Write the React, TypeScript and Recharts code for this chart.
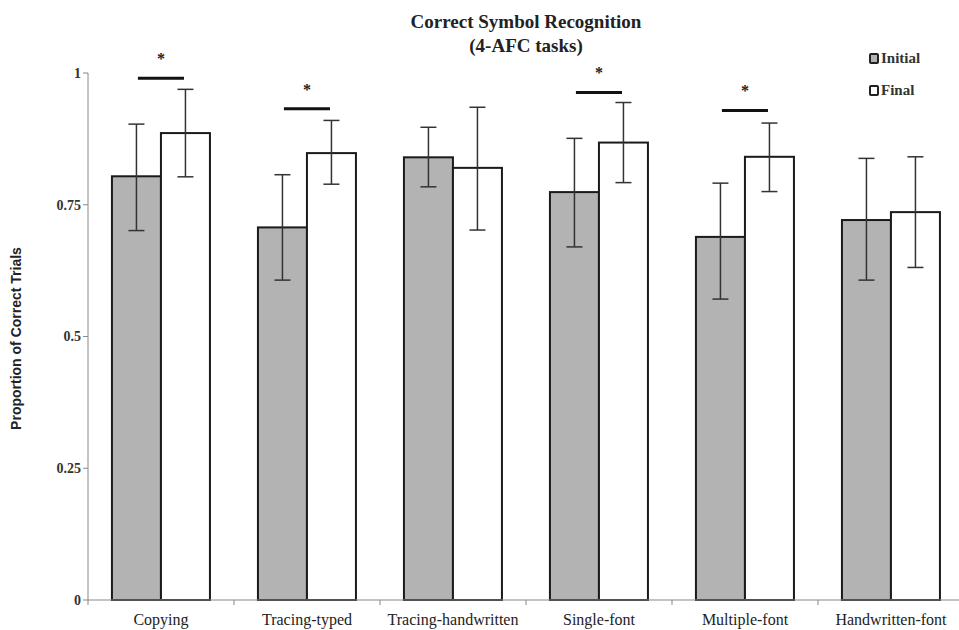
import React from 'react';
import { BarChart, Bar, XAxis, YAxis, ErrorBar } from 'recharts';

const categories = ['Copying', 'Tracing-typed', 'Tracing-handwritten', 'Single-font', 'Multiple-font', 'Handwritten-font'];
const initialValues = [0.804, 0.707, 0.840, 0.774, 0.689, 0.721];
const finalValues = [0.886, 0.848, 0.820, 0.868, 0.841, 0.736];
const initialLow = [0.701, 0.607, 0.784, 0.670, 0.571, 0.607];
const initialHigh = [0.903, 0.807, 0.897, 0.876, 0.791, 0.838];
const finalLow = [0.803, 0.789, 0.702, 0.792, 0.775, 0.631];
const finalHigh = [0.969, 0.910, 0.935, 0.944, 0.905, 0.841];
const sigLevel: (number | null)[] = [0.990, 0.932, null, 0.963, 0.929, null];
const yTicks = [0, 0.25, 0.5, 0.75, 1];
const yTickLabels = ['0', '0.25', '0.5', '0.75', '1'];
const seriesLegend = [
  { label: 'Initial', fill: '#b3b3b3' },
  { label: 'Final', fill: '#ffffff' },
];

const data = categories.map((c, i) => ({
  name: c,
  initial: initialValues[i],
  final: finalValues[i],
  initialErr: [initialValues[i] - initialLow[i], initialHigh[i] - initialValues[i]],
  finalErr: [finalValues[i] - finalLow[i], finalHigh[i] - finalValues[i]],
  sig: sigLevel[i],
}));

const SERIF = '"Liberation Serif", "DejaVu Serif", serif';
const SANS = '"Liberation Sans", Arial, sans-serif';

const FinalShape = (props: any) => {
  const { x, y, width, height, payload } = props;
  const pxPerUnit = height / payload.final;
  const base = y + height;
  const sig = payload.sig;
  let extra = null;
  if (sig != null) {
    const sy = base - sig * pxPerUnit;
    const starY = base - (sig + 0.044) * pxPerUnit;
    extra = (
      <g>
        <line x1={x - width * 0.47} x2={x + width * 0.47} y1={sy} y2={sy} stroke="#111" strokeWidth={3} />
        <text x={x} y={starY + 9} textAnchor="middle" fontFamily={SERIF} fontWeight="bold" fontSize={16} fill="#222">*</text>
      </g>
    );
  }
  return (
    <g>
      <rect x={x} y={y} width={width} height={height} fill="#ffffff" stroke="#1a1a1a" strokeWidth={2} />
      {extra}
    </g>
  );
};

const InitialShape = (props: any) => {
  const { x, y, width, height } = props;
  return <rect x={x} y={y} width={width} height={height} fill={seriesLegend[0].fill} stroke="#1a1a1a" strokeWidth={2} />;
};

const XTick = (props: any) => {
  const { x, y, payload } = props;
  const off = payload.offset || 0;
  return (
    <g>
      <line x1={x - off} x2={x - off} y1={y - 8} y2={y - 3} stroke="#888" strokeWidth={1} />
      <text x={x} y={y + 17} textAnchor="middle" fontFamily={SERIF} fontSize={16} fill="#222">{payload.value}</text>
    </g>
  );
};

export default function App() {
  return (
    <div style={{ position: 'absolute', left: 0, top: 0, width: 959, height: 630, overflow: 'hidden', background: '#fff' }}>
      <div style={{ position: 'absolute', left: 376, top: 10, width: 300, textAlign: 'center', fontFamily: SERIF, fontWeight: 'bold', fontSize: 19, lineHeight: '24px', color: '#222' }}>
        <div>Correct Symbol Recognition</div>
        <div>(4-AFC tasks)</div>
      </div>
      <div style={{ position: 'absolute', left: 869, top: 42, fontFamily: SERIF, fontSize: 15, fontWeight: 'bold', color: '#333' }}>
        {seriesLegend.map((it) => (
          <div key={it.label} style={{ display: 'flex', alignItems: 'center', height: 32 }}>
            <span style={{ display: 'inline-block', width: 6, height: 7, border: '2px solid #222', borderRadius: 2, background: it.fill, marginRight: 2 }} />
            <span>{it.label}</span>
          </div>
        ))}
      </div>
      <BarChart width={980} height={630} data={data} margin={{ top: 73, right: 16, bottom: 0, left: 0 }} barGap={0} barCategoryGap="16.4%" style={{ position: 'absolute', left: 0, top: 0 }}>
        <XAxis dataKey="name" height={30} axisLine={{ stroke: '#888' }} tickLine={false} tick={<XTick />} interval={0} />
        <YAxis
          domain={[0, 1]}
          ticks={yTicks}
          width={88}
          axisLine={{ stroke: '#888' }}
          tickLine={{ stroke: '#888' }}
          tickSize={5}
          tickFormatter={(v: number) => yTickLabels[yTicks.indexOf(v)]}
          tick={{ fontFamily: SERIF, fontSize: 14, fontWeight: 'bold', fill: '#333' }}
          label={{ value: 'Proportion of Correct Trials', angle: -90, position: 'insideLeft', offset: 0, dx: 16, dy: 2, style: { fontFamily: SANS, fontSize: 14, fontWeight: 'bold', fill: '#222', textAnchor: 'middle' } }}
        />
        <Bar dataKey="initial" name="Initial" shape={<InitialShape />} isAnimationActive={false}>
          <ErrorBar dataKey="initialErr" width={8} stroke="#333" strokeWidth={1.5} direction="y" />
        </Bar>
        <Bar dataKey="final" name="Final" shape={<FinalShape />} isAnimationActive={false}>
          <ErrorBar dataKey="finalErr" width={8} stroke="#333" strokeWidth={1.5} direction="y" />
        </Bar>
      </BarChart>
    </div>
  );
}
